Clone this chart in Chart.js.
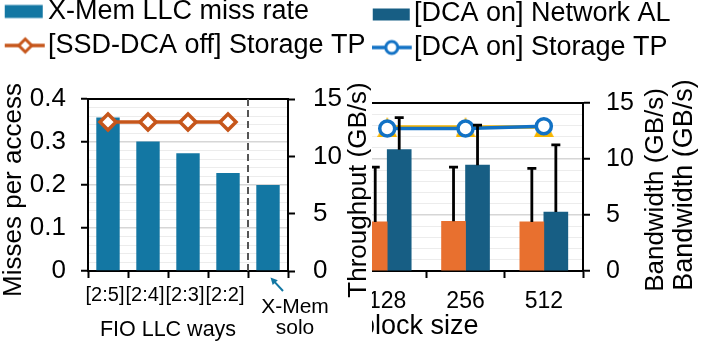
<!DOCTYPE html>
<html><head><meta charset="utf-8">
<script src="https://cdn.jsdelivr.net/npm/chart.js@4.4.1/dist/chart.umd.min.js"></script>
<style>
html,body{margin:0;padding:0;background:#fff;}
#wrap{position:relative;width:703px;height:344px;overflow:hidden;background:#fff;}
canvas{position:absolute;}
#right{left:362px;top:-7px;z-index:1;}
#left{left:0px;top:-9px;z-index:2;}
</style></head><body>
<div id="wrap">
<canvas id="right" width="341" height="351"></canvas>
<canvas id="left" width="380" height="353"></canvas>
</div>
<script>
// ---------- data ----------
const fioWays = ['[2:5]', '[2:4]', '[2:3]', '[2:2]', ''];
const missRate = [0.357, 0.301, 0.274, 0.228, 0.200];
const storageTpSsdOff = [13.0, 13.0, 13.0, 13.0, null];

const blockSizes = ['128', '256', '512'];
const netAlDcaOff = [4.38, 4.44, 4.38];
const netAlDcaOffErr = [4.89, 4.83, 4.78];
const netAlDcaOn = [10.83, 9.45, 5.26];
const netAlDcaOnErr = [2.86, 3.57, 6.01];
const storageTpDcaOff = [12.85, 12.85, 12.85];
const storageTpDcaOn = [12.72, 12.72, 12.93];

// ---------- style ----------
const FONT = "'Liberation Sans', Arial, Helvetica, sans-serif";
const C_XMEM = '#1377a3';
const C_NET = '#175e84';
const C_ORBAR = '#e8702f';
const C_ORLINE = '#c6561b';
const C_BLUE = '#1272c5';
const C_YEL = '#f7b600';
const G_MAJOR = '#d6d6d6';
const G_MINOR = '#ececec';
const CLEAR = 'rgba(0,0,0,0)';
const LEG_SIZE = 27;

Chart.defaults.font.family = FONT;
Chart.defaults.color = '#000';

function legendIcon(cx, x0, x1, draw) {
  const L = Math.floor(Math.min(x0, 2 * cx - x1) - 2);
  const W = Math.round(2 * (cx - L));
  const H = 30;
  const c = document.createElement('canvas');
  c.width = W; c.height = H;
  const g = c.getContext('2d');
  draw(g, -L, H / 2);
  return c;
}
function diamond(g, x, y, r) {
  g.beginPath(); g.moveTo(x - r, y); g.lineTo(x, y - r); g.lineTo(x + r, y); g.lineTo(x, y + r); g.closePath();
}
// legend icons (left canvas: cx = 7 + 28/2 ; right canvas: cx = 7 + 32/2)
const leftIcons = {
  0: legendIcon(21, 5, 43, (g, o, cy) => { g.fillStyle = C_XMEM; g.fillRect(5 + o, cy - 6.5, 38, 13); }),
  1: legendIcon(21, 5, 45, (g, o, cy) => {
    g.strokeStyle = C_ORLINE; g.lineWidth = 3.3;
    g.beginPath(); g.moveTo(5 + o, cy); g.lineTo(45 + o, cy); g.stroke();
    diamond(g, 25.5 + o, cy, 6.5); g.fillStyle = '#fff'; g.fill(); g.lineWidth = 3; g.stroke();
  })
};
const rightIcons = {
  3: legendIcon(23, 11, 48, (g, o, cy) => { g.fillStyle = C_NET; g.fillRect(11 + o, cy - 5, 37, 12); }),
  0: legendIcon(23, 10, 50, (g, o, cy) => {
    g.strokeStyle = C_BLUE; g.lineWidth = 3.3;
    g.beginPath(); g.moveTo(10 + o, cy); g.lineTo(50 + o, cy); g.stroke();
    g.beginPath(); g.arc(30 + o, cy, 6, 0, Math.PI * 2); g.fillStyle = '#fff'; g.fill(); g.lineWidth = 3; g.stroke();
  })
};
// matplotlib-like "^" marker (bbox centered)
const triMarker = (() => {
  const c = document.createElement('canvas'); c.width = 20; c.height = 20;
  const g = c.getContext('2d'); g.fillStyle = C_YEL;
  g.beginPath(); g.moveTo(0, 20); g.lineTo(10, 0); g.lineTo(20, 20); g.closePath(); g.fill();
  return c;
})();

function vText(ctx, text, x, cy, size) {
  ctx.save();
  ctx.font = size + 'px ' + FONT;
  ctx.fillStyle = '#000';
  ctx.textAlign = 'center';
  ctx.textBaseline = 'alphabetic';
  ctx.translate(x, cy);
  ctx.rotate(-Math.PI / 2);
  ctx.fillText(text, 0, 0);
  ctx.restore();
}
const isMajor01 = v => Math.round(v * 100) % 10 === 0;

// ---------- left chart ----------
const leftDecor = {
  id: 'leftDecor',
  beforeDraw(chart) {
    const c = chart.ctx; c.save(); c.fillStyle = '#fff'; c.fillRect(0, 0, 372, chart.height); c.restore();
  },
  beforeDatasetsDraw(chart) {
    const {ctx, chartArea: ca, scales: {x}} = chart;
    const sx = Math.round((x.getPixelForValue(3) + x.getPixelForValue(4)) / 2);
    ctx.save(); ctx.strokeStyle = '#555'; ctx.lineWidth = 2; ctx.setLineDash([7, 4]);
    ctx.beginPath(); ctx.moveTo(sx, ca.top); ctx.lineTo(sx, ca.bottom); ctx.stroke(); ctx.restore();
  },
  afterDraw(chart) {
    const {ctx, chartArea: ca, scales: {x}} = chart;
    const cy = (ca.top + ca.bottom) / 2 + 5;
    vText(ctx, 'Misses per access', 21, cy, 26);
    vText(ctx, 'Throughput (GB/s)', ca.right + 78, cy, 26);
    ctx.save();
    ctx.fillStyle = '#000'; ctx.textAlign = 'center'; ctx.textBaseline = 'middle';
    ctx.font = '21.5px ' + FONT;
    ctx.fillText('FIO LLC ways', (x.getPixelForValue(0) + x.getPixelForValue(3)) / 2, ca.bottom + 59.5);
    const px = x.getPixelForValue(4);
    ctx.font = '21px ' + FONT;
    ctx.fillText('X-Mem', px + 27, ca.bottom + 36.5);
    ctx.fillText('solo', px + 27, ca.bottom + 57.5);
    // arrow
    const ax0 = px + 15, ay0 = ca.bottom + 20, ax1 = px + 2.5, ay1 = ca.bottom + 6.5;
    const ang = Math.atan2(ay1 - ay0, ax1 - ax0);
    ctx.strokeStyle = C_XMEM; ctx.fillStyle = C_XMEM; ctx.lineWidth = 2;
    ctx.beginPath(); ctx.moveTo(ax0, ay0); ctx.lineTo(ax1 - 5 * Math.cos(ang), ay1 - 5 * Math.sin(ang)); ctx.stroke();
    ctx.beginPath();
    ctx.moveTo(ax1, ay1);
    ctx.lineTo(ax1 - 7 * Math.cos(ang) + 3.5 * Math.sin(ang), ay1 - 7 * Math.sin(ang) - 3.5 * Math.cos(ang));
    ctx.lineTo(ax1 - 7 * Math.cos(ang) - 3.5 * Math.sin(ang), ay1 - 7 * Math.sin(ang) + 3.5 * Math.cos(ang));
    ctx.closePath(); ctx.fill();
    ctx.restore();
  }
};

new Chart(document.getElementById('left'), {
  type: 'bar',
  data: {
    labels: fioWays,
    datasets: [
      { label: 'X-Mem LLC miss rate', data: missRate, backgroundColor: C_XMEM, yAxisID: 'y', order: 1,
        categoryPercentage: 1, barPercentage: 0.585 },
      { type: 'line', label: '[SSD-DCA off] Storage TP', data: storageTpSsdOff, yAxisID: 'y1', order: 0,
        borderColor: C_ORLINE, borderWidth: 3.5, pointStyle: 'rectRot', pointRadius: 8, pointBorderWidth: 3.5,
        pointBackgroundColor: '#fff', pointBorderColor: C_ORLINE, spanGaps: false }
    ]
  },
  options: {
    responsive: false, devicePixelRatio: 1, animation: false, events: [],
    layout: { padding: 0, autoPadding: false },
    plugins: {
      tooltip: { enabled: false },
      legend: {
        display: true, position: 'top', align: 'start',
        labels: {
          font: { size: LEG_SIZE }, color: '#000', padding: 7, usePointStyle: true, pointStyleWidth: 27.5, boxHeight: 26,
          generateLabels(chart) {
            return Chart.defaults.plugins.legend.labels.generateLabels(chart)
              .map(it => Object.assign(it, { pointStyle: leftIcons[it.datasetIndex], rotation: 0 }));
          },
          sort: (a, b) => a.datasetIndex - b.datasetIndex
        }
      }
    },
    scales: {
      x: {
        type: 'category', offset: true,
        grid: { offset: true, drawOnChartArea: false, drawTicks: true, tickLength: 7, tickWidth: 2, tickColor: '#000' },
        border: { display: true, color: '#000', width: 2 },
        ticks: { font: { size: 20 }, padding: 5, labelOffset: -3, autoSkip: false, maxRotation: 0, minRotation: 0, color: '#000' },
        afterFit: s => { s.height = 73; }
      },
      xTop: {
        type: 'linear', position: 'top', min: 0, max: 1,
        grid: { display: true, drawOnChartArea: false, drawTicks: false },
        ticks: { display: false },
        border: { display: true, color: '#000', width: 2 },
        afterFit: s => { s.height = 30; }
      },
      y: {
        position: 'left', min: 0, max: 0.4,
        ticks: { stepSize: 0.02, autoSkip: false, font: { size: 26 }, padding: 15, color: '#000',
          callback: v => isMajor01(v) ? (Math.round(v * 100) === 0 ? '0' : (Math.round(v * 100) / 100).toFixed(1)) : '' },
        grid: { color: c => isMajor01(c.tick.value) ? G_MAJOR : G_MINOR, lineWidth: c => isMajor01(c.tick.value) ? 1.5 : 1,
          tickLength: 7, tickWidth: 2, tickColor: c => isMajor01(c.tick.value) ? '#000' : CLEAR },
        border: { display: true, color: '#000', width: 2 },
        afterFit: s => { s.width = 88; }
      },
      y1: {
        position: 'right', min: 0, max: 15,
        ticks: { stepSize: 5, autoSkip: false, font: { size: 26 }, padding: 18, color: '#000' },
        grid: { drawOnChartArea: false, tickLength: 7, tickWidth: 2, tickColor: '#000' },
        border: { display: true, color: '#000', width: 2 },
        afterFit: s => { s.width = 92; }
      }
    }
  },
  plugins: [leftDecor]
});

// ---------- right chart ----------
const xTickValues = [];
blockSizes.forEach((_, i) => { xTickValues.push(i, i + 0.5); });
const isHalf = v => Math.abs((v % 1) - 0.5) < 1e-6;

const rightDecor = {
  id: 'rightDecor',
  afterDatasetsDraw(chart) {
    const {ctx, scales: {y}} = chart;
    ctx.save(); ctx.strokeStyle = '#000'; ctx.lineWidth = 2.8;
    [[2, netAlDcaOff, netAlDcaOffErr], [3, netAlDcaOn, netAlDcaOnErr]].forEach(([di, vals, errs]) => {
      chart.getDatasetMeta(di).data.forEach((el, i) => {
        const x = el.x, y0 = y.getPixelForValue(vals[i]), y1 = y.getPixelForValue(vals[i] + errs[i]);
        ctx.beginPath(); ctx.moveTo(x, y0); ctx.lineTo(x, y1); ctx.moveTo(x - 4.5, y1); ctx.lineTo(x + 4.5, y1); ctx.stroke();
      });
    });
    ctx.restore();
  },
  afterDraw(chart) {
    const {ctx, chartArea: ca, scales: {x}} = chart;
    const cy = (ca.top + ca.bottom) / 2 + 3;
    vText(ctx, 'Bandwidth (GB/s)', ca.right + 80, cy, 26);
    vText(ctx, 'Bandwidth (GB/s)', ca.right + 109, cy - 5, 27);
    ctx.save();
    ctx.fillStyle = '#000'; ctx.textAlign = 'center'; ctx.textBaseline = 'middle';
    ctx.font = '27px ' + FONT;
    ctx.fillText('block size', x.getPixelForValue(0.41), ca.bottom + 56);
    ctx.restore();
  }
};

const pts = arr => arr.map((v, i) => ({ x: i, y: v }));

new Chart(document.getElementById('right'), {
  type: 'bar',
  data: {
    datasets: [
      { type: 'line', label: '[DCA on] Storage TP', data: pts(storageTpDcaOn), order: 0,
        borderColor: C_BLUE, borderWidth: 3.5, pointStyle: 'circle', pointRadius: 7.5, pointBorderWidth: 3.5,
        pointBackgroundColor: '#fff', pointBorderColor: C_BLUE },
      { type: 'line', label: '[DCA off] Storage TP', data: pts(storageTpDcaOff), order: 1,
        borderColor: C_YEL, borderWidth: 3.5, pointStyle: triMarker, pointRadius: 10 },
      { label: '[DCA off] Network AL', data: pts(netAlDcaOff), backgroundColor: C_ORBAR, barThickness: 24, order: 2 },
      { label: '[DCA on] Network AL', data: pts(netAlDcaOn), backgroundColor: C_NET, barThickness: 24, order: 3 }
    ]
  },
  options: {
    responsive: false, devicePixelRatio: 1, animation: false, events: [],
    layout: { padding: 0, autoPadding: false },
    plugins: {
      tooltip: { enabled: false },
      legend: {
        display: true, position: 'top', align: 'start',
        labels: {
          font: { size: LEG_SIZE }, color: '#000', padding: 7, usePointStyle: true, pointStyleWidth: 31.5, boxHeight: 26,
          generateLabels(chart) {
            return Chart.defaults.plugins.legend.labels.generateLabels(chart)
              .map(it => Object.assign(it, { pointStyle: rightIcons[it.datasetIndex] || it.pointStyle, rotation: 0 }));
          },
          filter: it => it.datasetIndex === 0 || it.datasetIndex === 3,
          sort: (a, b) => b.datasetIndex - a.datasetIndex
        }
      }
    },
    scales: {
      x: {
        type: 'linear', min: -0.322, max: 2.5, offset: false,
        grid: { offset: false, drawOnChartArea: false, drawTicks: true, tickLength: 7, tickWidth: 2,
          tickColor: c => (c.tick && isHalf(c.tick.value)) ? '#000' : CLEAR },
        border: { display: true, color: '#000', width: 2 },
        ticks: { font: { size: 23 }, padding: 10, autoSkip: false, maxRotation: 0, minRotation: 0, color: '#000',
          callback: v => Number.isInteger(v) ? blockSizes[v] : '' },
        afterBuildTicks: s => { s.ticks = xTickValues.map(v => ({ value: v })); },
        afterFit: s => { s.height = 73; s.paddingLeft = 0; s.paddingRight = 0; }
      },
      xTop: {
        type: 'linear', position: 'top', min: 0, max: 1,
        grid: { display: true, drawOnChartArea: false, drawTicks: false },
        ticks: { display: false },
        border: { display: true, color: '#000', width: 2 },
        afterFit: s => { s.height = 32; s.paddingLeft = 0; s.paddingRight = 0; }
      },
      y: {
        position: 'right', min: 0, max: 15,
        ticks: { stepSize: 1, autoSkip: false, font: { size: 25 }, padding: 16, color: '#000',
          callback: v => v % 5 === 0 ? String(v) : '' },
        grid: { color: c => c.tick.value % 5 === 0 ? G_MAJOR : G_MINOR, lineWidth: c => c.tick.value % 5 === 0 ? 1.5 : 1,
          tickLength: 7, tickWidth: 2, tickColor: c => c.tick.value % 5 === 0 ? '#000' : CLEAR },
        border: { display: true, color: '#000', width: 2 },
        afterFit: s => { s.width = 120; }
      }
    }
  },
  plugins: [rightDecor]
});
</script>
</body></html>
